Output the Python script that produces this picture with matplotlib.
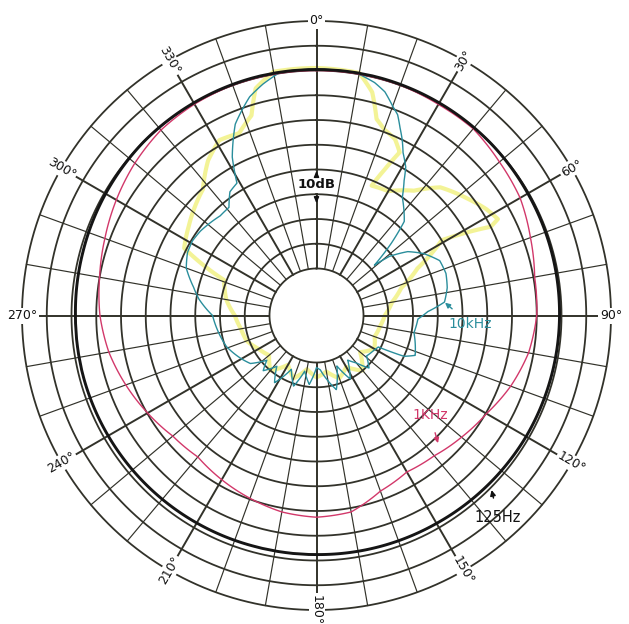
import numpy as np
import matplotlib
matplotlib.use("Agg")
import matplotlib.pyplot as plt

# ---------------- data (angle in degrees clockwise from front, level in dB; ring = 5 dB) -------------
ang_125 = [0, 15, 30, 45, 60, 75, 90, 105, 120, 135, 150, 165, 180, 195, 210, 225, 240, 255, 270,
           285, 300, 315, 330, 345, 360]
db_125 = [0.2, 0.2, 0.1, 0.0, -0.2, -0.3, -0.4, -0.5, -0.6, -0.8, -1.0, -1.1, -1.2, -1.2, -1.1, -1.0,
          -0.9, -0.8, -0.8, -0.6, -0.3, 0.0, 0.1, 0.2, 0.2]

ang_1k = [0, 10, 20, 30, 40, 50, 60, 70, 80, 90, 100, 110, 120, 130, 140, 150, 160, 170, 180, 190,
          200, 210, 220, 230, 240, 250, 260, 270, 280, 290, 300, 310, 320, 330, 340, 350, 360]
db_1k = [0, 0, 0, -0.25, -0.25, -1.25, -2, -3.5, -4.75, -5, -6, -7.75, -9.85, -11.25, -12.5, -13,
         -11.75, -9.2, -8.75, -9.2, -10.2, -11.2, -12.2, -11.6, -10.1, -8.5, -6.9, -5.75, -5, -4,
         -2.8, -1.6, -0.6, -0.2, 0, 0, 0]

ang_10k = [0, 5, 10, 14, 17, 20, 22, 24, 26, 28, 31, 33, 36, 40, 43, 46, 49, 51, 55, 60, 66, 72, 78,
           84, 88, 92, 100, 108, 112, 115, 117, 122, 129, 135, 140, 145, 152, 158, 165, 171, 176,
           180, 186, 192, 198, 205, 212, 218, 224, 228, 234, 240, 251, 262, 270, 278, 283, 290, 296,
           301, 306, 311, 316, 321, 325, 329, 332, 337, 343, 347, 351, 355, 360]
db_10k = [0.25, 0.25, 0, -1, -2.25, -4.5, -5.75, -8, -10, -12.25, -14.5, -17, -20, -22, -23.5, -28.5,
          -34, -30.5, -27, -24.5, -22.25, -22, -22.5, -23.5, -27, -29, -29.5, -28.5, -28, -30, -35.5,
          -36, -36.5, -34.5, -37, -38.5, -35, -38.5, -34, -36.5, -38.5, -39, -35.5, -38, -34.5, -37.5,
          -33.5, -36.5, -34, -36, -33, -32, -30.25, -29.25, -28.5, -25.5, -24, -21.5, -20.5, -20.25,
          -20.5, -21, -21.5, -21.4, -19, -18.3, -13.25, -7.5, -3.3, -1.5, 0, 0.25, 0.25]

ang_hf = [0, 10, 14, 17, 20, 24, 27, 25, 23, 30, 38, 44, 52, 58, 62, 63, 59, 65, 72, 80, 90,
          100, 110, 120, 130, 140, 150, 160, 170, 180, 190, 200, 210, 220, 230, 240, 250, 260, 270,
          280, 291, 297, 305, 318, 325, 331, 337, 342, 345, 350, 360]
db_hf = [0.5, 0.25, -3, -8, -9.5, -10.5, -12.5, -17, -21, -20.5, -17.5, -13.5, -11, -9, -8,
         -10, -20, -27, -31.5, -34, -35.7, -36.5, -37, -36, -38, -35, -37.5, -36, -38, -37, -38.5,
         -36, -38, -35, -37, -36, -34.5, -34, -33, -31, -29.5, -19.5, -18, -15.2, -11.3, -9, -9.5,
         -7, -2, 0.5, 0.5]

angle_ticks = [0, 30, 60, 90, 120, 150, 180, 210, 240, 270, 300, 330]
angle_tick_labels = ["0°", "30°", "60°", "90°", "120°", "150°", "180°", "210°", "240°", "270°",
                     "300°", "330°"]
ring_levels = [-40, -35, -30, -25, -20, -15, -10, -5, 0, 5, 10]

# ---------------- styling ----------------
grid_c = "#32322a"
c125 = "#151515"
c1k = "#d2386a"
c10k = "#2a8e9c"
chf = "#efef6a"

W, H = 629, 624
cx, cy, R = 316.5, 315.5, 294.5
fig = plt.figure(figsize=(W / 100, H / 100), dpi=100)
fig.patch.set_facecolor("white")
ax = fig.add_axes([(cx - R) / W, (H - cy - R) / H, 2 * R / W, 2 * R / H], projection="polar")
ax.set_theta_zero_location("N")
ax.set_theta_direction(-1)
ax.set_rorigin(-49.5)
ax.set_ylim(ring_levels[0], ring_levels[-1])
ax.axis("off")

full = np.linspace(0, 2 * np.pi, 721)
for lv in ring_levels:
    ax.plot(full, np.full_like(full, lv), color=grid_c, lw=1.3, zorder=2, clip_on=False)
for a in range(0, 360, 10):
    t = np.deg2rad(a)
    ax.plot([t, t], [ring_levels[0], ring_levels[-1]], color=grid_c,
            lw=1.4 if a % 30 == 0 else 0.85, zorder=2, clip_on=False)


def polar_curve(angles, levels, **kw):
    ln, = ax.plot(np.deg2rad(angles), levels, **kw)
    # let the polar transform draw each segment as a curve in (angle, level) space
    ln.get_path()._interpolation_steps = 24
    return ln


# traces
polar_curve(ang_hf, db_hf, color=chf, lw=3.0, alpha=0.7, zorder=1,
            solid_joinstyle="round", solid_capstyle="round")
polar_curve(ang_10k, db_10k, color=c10k, lw=1.0, zorder=3)
polar_curve(ang_1k, db_1k, color=c1k, lw=1.0, zorder=3)
polar_curve(ang_125, db_125, color=c125, lw=2.1, zorder=3)

# angle labels sitting on the outer ring
rots = {0: 0, 30: 60, 60: 30, 90: 0, 120: -30, 150: -60, 180: -90, 210: 60, 240: 30, 270: 0,
        300: -30, 330: -60}
for a, lab in zip(angle_ticks, angle_tick_labels):
    ax.text(np.deg2rad(a), ring_levels[-1], lab, rotation=rots[a], rotation_mode="anchor",
            ha="center", va="center", fontsize=9, color="#111111", zorder=6, clip_on=False,
            bbox=dict(boxstyle="square,pad=0.12", fc="white", ec="none"))

# 10 dB scale marker
ax.text(0, -23.1, "10dB", ha="center", va="center", fontsize=9.5, fontweight="bold",
        color="#111111", zorder=6, bbox=dict(boxstyle="square,pad=0.15", fc="white", ec="none"))
ax.annotate("", xy=(0, -19.7), xytext=(0, -22.0),
            arrowprops=dict(arrowstyle="-|>,head_width=0.15,head_length=0.35", color="#111111",
                            lw=1.0), zorder=6)
ax.annotate("", xy=(0, -27.4), xytext=(0, -24.8),
            arrowprops=dict(arrowstyle="-|>,head_width=0.15,head_length=0.35", color="#111111",
                            lw=1.0), zorder=6)

# series labels with pointers
ax.annotate("10kHz", xy=(np.deg2rad(84.3), -23.4), xytext=(np.deg2rad(93.2), -18.5),
            ha="center", va="center", fontsize=10, color=c10k, zorder=6,
            arrowprops=dict(arrowstyle="-|>,head_width=0.15,head_length=0.3", color=c10k, lw=1.0,
                            shrinkA=6, shrinkB=0))
ax.annotate("1KHz", xy=(np.deg2rad(136.4), -13.9), xytext=(np.deg2rad(131.2), -19.0),
            ha="center", va="center", fontsize=10, color=c1k, zorder=6,
            arrowprops=dict(arrowstyle="-|>,head_width=0.15,head_length=0.3", color=c1k, lw=1.0,
                            shrinkA=6, shrinkB=0))
ax.annotate("125Hz", xy=(np.deg2rad(134.9), 0.45), xytext=(np.deg2rad(138.1), 5.4),
            ha="center", va="center", fontsize=10.5, color="#111111", zorder=6,
            annotation_clip=False,
            arrowprops=dict(arrowstyle="-|>,head_width=0.15,head_length=0.3", color="#111111",
                            lw=1.1, shrinkA=7, shrinkB=0))

fig.savefig("out.png", dpi=100, facecolor="white")
